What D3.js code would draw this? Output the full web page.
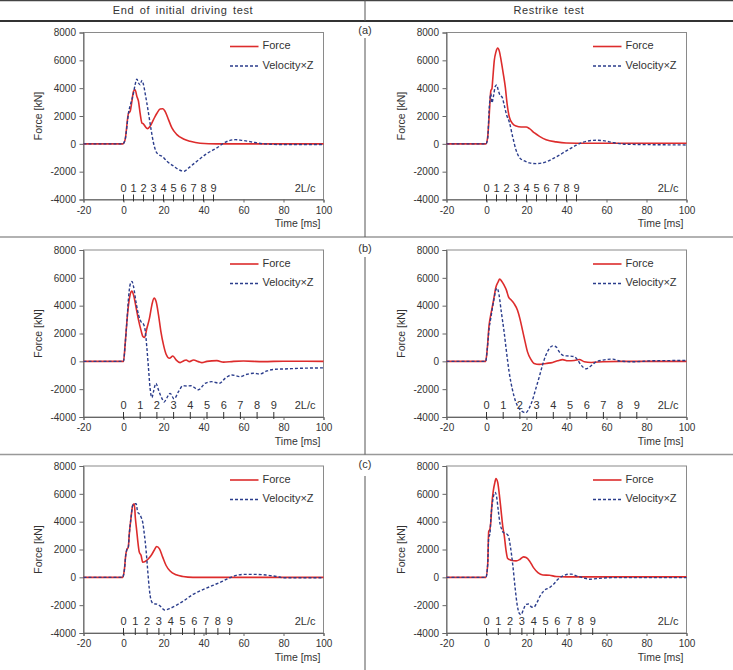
<!DOCTYPE html>
<html>
<head>
<meta charset="utf-8">
<script src="https://cdn.jsdelivr.net/npm/d3@7"></script>
<style>
  body { margin: 0; background: #fff; }
  text { font-family: "Liberation Sans", Arial, sans-serif; fill: #333; }
</style>
</head>
<body>
<svg id="fig" width="733" height="670"></svg>
<script>
// ---------------- data ----------------
const colTitles = ["End of initial driving test", "Restrike test"];
const rowLabels = ["(a)", "(b)", "(c)"];
const xTicks = [-20, 0, 20, 40, 60, 80, 100];
const yTicks = [-4000, -2000, 0, 2000, 4000, 6000, 8000];
const lcLabels = [0, 1, 2, 3, 4, 5, 6, 7, 8, 9];
// 2L/c period in ms for rows a, b, c
const periodMs = [5, 8.35, 5.9];
const seriesNames = ["Force", "Velocity\u00d7Z"];

// [time ms, kN]
const aInitForce = [[-20,0],[-0.3,0],[0.8,300],[2.5,2200],[3.3,2330],[4.2,3050],[5,3770],[5.8,3890],[6.7,3400],[7.5,3050],[8.3,2200],[9.2,1500],[10,1430],[10.8,1260],[12,1090],[13.3,1260],[15,1740],[16.7,2200],[18.3,2500],[19.7,2520],[20.8,2330],[22.5,1740],[24.2,1140],[26.7,660],[30,350],[33.3,180],[38.3,40],[46.7,0],[100,0]];
const aInitVel = [[-20,0],[-0.3,0],[0.8,300],[2.5,2200],[4.2,3200],[5,3650],[5.8,4250],[6.7,4650],[7.5,4370],[8.3,4250],[9.2,4560],[10,4250],[10.8,3650],[12.5,2200],[13.8,1020],[15,60],[16.2,-530],[17.5,-770],[19.2,-890],[21.7,-1250],[25,-1600],[28.3,-1900],[30.3,-1970],[32.5,-1740],[36.7,-1250],[41.7,-700],[46.7,-290],[50.8,110],[55.8,300],[59.2,250],[63.3,160],[70,0],[80,-50],[100,-50]];
const aRestForce = [[-20,0],[-0.3,0],[0.6,500],[1.4,2170],[2.2,3840],[2.7,3950],[3.1,4600],[3.9,6000],[4.7,6590],[5.6,6880],[6.4,6660],[7.3,6000],[8.4,5030],[9.4,4070],[10.3,2880],[11.4,1930],[13.1,1450],[14.8,1280],[17.3,1210],[19.8,1210],[21.5,1090],[24,780],[26.5,540],[29.8,300],[34.8,140],[39.8,60],[50,40],[100,40]];
const aRestVel = [[-20,0],[-0.3,0],[0.6,400],[1.4,2640],[2.2,3600],[2.7,2950],[3.4,3360],[4.4,4130],[5.1,4230],[5.9,3840],[6.8,3480],[7.8,3360],[8.9,2760],[10.1,2050],[11.4,1570],[13.1,500],[14.8,-460],[16.5,-990],[19,-1230],[21.5,-1370],[24.8,-1420],[29.8,-1300],[34.8,-940],[39.9,-510],[44.9,-100],[49.9,180],[54.9,260],[59.1,210],[63.3,90],[70,-30],[100,-80]];
const bInitForce = [[-20,0],[0,0],[0.8,1180],[1.7,2860],[2.5,4060],[3.3,4780],[4.2,5050],[5,4780],[6.2,3940],[7.5,2980],[8.7,2260],[9.7,1780],[10.5,1710],[11.7,2380],[13,3100],[14.2,4060],[15.3,4540],[16.3,4300],[17.5,3340],[18.7,2140],[20,1180],[21.3,510],[23,220],[24.7,380],[26.3,100],[28.3,-90],[30,30],[31.3,100],[33,-20],[35,100],[37.5,-20],[39.2,-90],[41.7,0],[46.7,50],[50,-60],[55,0],[60,20],[70,-20],[80,10],[100,0]];
const bInitVel = [[-20,0],[0,0],[0.8,1180],[1.7,2860],[2.5,4540],[3.3,5500],[4.2,5740],[5,5380],[6.2,4300],[7.5,3340],[8.7,2860],[10,2670],[10.8,2260],[11.7,940],[12.5,-500],[13.3,-1940],[14.2,-2610],[15,-2180],[16.2,-1580],[17.5,-2060],[19.2,-2660],[20.3,-2920],[21.7,-2620],[23.3,-2300],[25.3,-2700],[27.5,-2180],[29.7,-1750],[31.7,-1770],[33.7,-1750],[37.5,-2040],[40.8,-1580],[44.2,-1460],[48,-1580],[50.8,-1220],[54.2,-980],[58.3,-1100],[61.7,-930],[65,-860],[68.3,-910],[71.7,-690],[75.8,-570],[80,-550],[88.3,-500],[100,-470]];
const bRestForce = [[-20,0],[-0.4,0],[0.4,920],[1.3,2600],[2.1,3320],[2.9,3910],[3.8,4630],[4.6,5270],[5.8,5700],[6.6,5920],[7.6,5750],[8.8,5470],[10,5100],[11,4630],[12.1,4440],[13.8,4150],[15.5,3670],[16.7,3070],[18,2240],[19.3,1400],[20.5,680],[22.2,140],[23.8,-150],[26.4,-220],[29.7,-150],[33.1,-80],[35.6,40],[38.1,120],[40.6,40],[43.9,60],[46.4,130],[48.9,-30],[52.3,-80],[58.2,-30],[66.5,0],[100,0]];
const bRestVel = [[-20,0],[-0.4,0],[0.4,920],[1.3,2360],[2.1,3070],[2.9,3790],[3.8,4510],[4.6,5100],[5.4,5250],[6.3,4750],[7.4,3550],[8.8,2120],[10,680],[11.3,-750],[13,-2060],[14.6,-2900],[16.3,-3380],[18,-3620],[19.7,-3690],[21.3,-3380],[23,-2780],[24.7,-1940],[26.4,-1110],[28,-270],[29.7,450],[31.4,920],[33.1,1110],[34.8,1040],[36.4,680],[38.9,400],[41.4,380],[43.9,330],[45.6,90],[47.3,-270],[49.8,-530],[52.3,-320],[54.8,-30],[58.2,90],[63.2,160],[66.5,20],[73.2,-30],[83.3,40],[100,60]];
const cInitForce = [[-20,0],[-0.4,0],[0.4,500],[1.2,1690],[1.7,2000],[2.4,2170],[2.9,3120],[3.7,4200],[4.6,5160],[5.4,5280],[5.9,4320],[6.6,3360],[7.3,2400],[7.9,1810],[8.8,1570],[9.6,1090],[10.8,1140],[12.1,1280],[13.8,1570],[15.5,1980],[16.6,2220],[18,2050],[19.6,1450],[21.3,850],[23.3,450],[26.3,180],[29.7,60],[34.7,0],[100,0]];
const cInitVel = [[-20,0],[-0.4,0],[0.4,500],[1.2,1690],[1.7,2000],[2.4,2170],[2.9,3120],[3.7,4200],[4.6,5160],[5.4,5280],[6.3,5300],[7.1,4680],[7.9,4560],[8.8,4320],[9.6,3960],[10.4,3120],[11.3,1930],[12.1,500],[12.9,-820],[13.8,-1650],[14.9,-1890],[17.1,-1940],[18.8,-2130],[20.5,-2350],[23,-2250],[26.3,-2010],[29.7,-1730],[34.7,-1230],[39.7,-890],[44.7,-580],[49.7,-270],[53.1,-30],[56.4,140],[59.8,210],[66.5,210],[71.5,160],[76.5,60],[79.8,-30],[100,-30]];
const cRestForce = [[-20,0],[-0.3,0],[0.6,940],[1.1,3300],[1.7,3460],[2.2,4060],[2.7,5260],[3.4,6220],[4.2,6820],[4.7,7100],[5.6,6820],[6.4,5980],[7.3,4780],[8.1,3700],[8.9,2980],[9.8,1900],[10.6,1350],[12.3,1230],[14.8,1180],[16.8,1300],[18.5,1470],[19.8,1420],[21.5,1180],[23.5,700],[25.7,340],[28.2,170],[31.5,150],[34.8,60],[39.9,30],[100,30]];
const cRestVel = [[-20,0],[-0.3,0],[0.6,940],[1.1,2860],[1.7,3100],[2.2,4300],[3.1,5500],[3.9,6030],[4.4,6100],[5.1,5740],[5.9,4780],[6.8,3820],[7.6,3460],[8.4,3220],[9.8,3150],[10.9,2980],[11.9,2260],[13.1,940],[14.3,-740],[15.3,-1940],[16.5,-2610],[17.3,-2680],[18.5,-2300],[19.8,-1940],[21.1,-1920],[22.5,-2130],[23.6,-2150],[25.2,-1820],[26.8,-1340],[29,-930],[31.5,-740],[33.5,-500],[35.7,-140],[38.2,100],[40.7,220],[42.4,230],[44.9,100],[48.2,-20],[51.6,-140],[54.9,-90],[63.3,-20],[100,-20]];

// ---------------- layout ----------------
const plotW = 240, plotH = 167;
const colX = [83.5, 446.5];
const rowY = [32.5, 250, 466];
const forceColor = "#dd2c2c";
const velColor = "#2b3d8c";

const svg = d3.select("#fig");
svg.append("rect").attr("width", 733).attr("height", 670).attr("fill", "#fff");

// table lines
svg.append("line").attr("x1", 0).attr("x2", 733).attr("y1", 0.5).attr("y2", 0.5)
    .attr("stroke", "#444").attr("stroke-width", 1.5);
svg.append("line").attr("x1", 0).attr("x2", 733).attr("y1", 21).attr("y2", 21)
    .attr("stroke", "#333").attr("stroke-width", 2);
[237, 454.5].forEach(yy => {
    svg.append("line").attr("x1", 0).attr("x2", 733).attr("y1", yy).attr("y2", yy)
        .attr("stroke", "#999").attr("stroke-width", 1.5);
});
// vertical divider, broken where the row label sits
[[0, 21], [38, 237], [257, 454.5], [476, 670]].forEach(seg => {
    svg.append("line").attr("x1", 365).attr("x2", 365).attr("y1", seg[0]).attr("y2", seg[1])
        .attr("stroke", "#555").attr("stroke-width", 1);
});

// column titles
colTitles.forEach((t, i) => {
    svg.append("text")
        .attr("x", i === 0 ? 183 : 549)
        .attr("y", 11)
        .attr("text-anchor", "middle")
        .attr("dominant-baseline", "middle")
        .attr("font-size", "11px")
        .attr("letter-spacing", "0.6px")
        .attr("word-spacing", "2px")
        .text(t);
});

// row labels
rowLabels.forEach((t, i) => {
    svg.append("text")
        .attr("x", 365)
        .attr("y", rowY[i] - 1)
        .attr("text-anchor", "middle")
        .attr("dominant-baseline", "middle")
        .attr("font-size", "11px")
        .text(t);
});

const panels = [
    { row: 0, col: 0, force: aInitForce, vel: aInitVel },
    { row: 0, col: 1, force: aRestForce, vel: aRestVel },
    { row: 1, col: 0, force: bInitForce, vel: bInitVel },
    { row: 1, col: 1, force: bRestForce, vel: bRestVel },
    { row: 2, col: 0, force: cInitForce, vel: cInitVel },
    { row: 2, col: 1, force: cRestForce, vel: cRestVel }
];

panels.forEach(p => drawPanel(p));

function drawPanel(p) {
    const g = svg.append("g")
        .attr("transform", `translate(${colX[p.col]},${rowY[p.row]})`);

    const x = d3.scaleLinear().domain([-20, 100]).range([0, plotW]);
    const y = d3.scaleLinear().domain([-4000, 8000]).range([plotH, 0]);

    // plot area border
    g.append("rect")
        .attr("width", plotW).attr("height", plotH)
        .attr("fill", "none").attr("stroke", "#8a8a8a").attr("stroke-width", 1);

    // x axis
    const xa = g.append("g")
        .attr("transform", `translate(0,${plotH})`)
        .call(d3.axisBottom(x).tickValues(xTicks).tickSize(3).tickPadding(4)
            .tickFormat(d => String(d)));
    // y axis
    const ya = g.append("g")
        .call(d3.axisLeft(y).tickValues(yTicks).tickSize(4).tickPadding(3.5)
            .tickFormat(d => String(d)));
    [xa, ya].forEach(a => {
        a.select(".domain").attr("stroke", "#666");
        a.selectAll(".tick line").attr("stroke", "#666");
        a.selectAll("text").attr("font-size", "10px").attr("fill", "#333")
            .attr("font-family", "\"Liberation Sans\", Arial, sans-serif");
    });

    // axis titles
    g.append("text")
        .attr("x", plotW - 3).attr("y", plotH + 25)
        .attr("text-anchor", "end").attr("dominant-baseline", "middle")
        .attr("font-size", "10.5px")
        .text("Time [ms]");
    g.append("text")
        .attr("transform", `translate(-44.5,${plotH / 2}) rotate(-90)`)
        .attr("text-anchor", "middle").attr("dominant-baseline", "middle")
        .attr("font-size", "10.5px")
        .text("Force [kN]");

    // 2L/c scale along the bottom
    const period = periodMs[p.row];
    const lc = g.append("g");
    lc.selectAll("line")
        .data(lcLabels)
        .join("line")
        .attr("x1", d => x(d * period)).attr("x2", d => x(d * period))
        .attr("y1", plotH - 5).attr("y2", plotH + 2)
        .attr("stroke", "#333").attr("stroke-width", 1);
    lc.selectAll("text")
        .data(lcLabels)
        .join("text")
        .attr("x", d => x(d * period))
        .attr("y", plotH - 10.5)
        .attr("text-anchor", "middle").attr("dominant-baseline", "middle")
        .attr("font-size", "11px")
        .text(d => d);
    g.append("text")
        .attr("x", plotW - 8).attr("y", plotH - 10.5)
        .attr("text-anchor", "end").attr("dominant-baseline", "middle")
        .attr("font-size", "11px")
        .text("2L/c");

    // lines
    const line = d3.line()
        .x(d => x(d[0]))
        .y(d => y(d[1]))
        .curve(d3.curveMonotoneX);

    g.append("path")
        .datum(p.force)
        .attr("d", line)
        .attr("fill", "none").attr("stroke", forceColor).attr("stroke-width", 1.6);
    g.append("path")
        .datum(p.vel)
        .attr("d", line)
        .attr("fill", "none").attr("stroke", velColor).attr("stroke-width", 1.4)
        .attr("stroke-dasharray", "3,2");

    // legend
    const leg = g.append("g");
    [0, 1].forEach(i => {
        const ly = i === 0 ? 14 : 33.5;
        leg.append("line")
            .attr("x1", 146.5).attr("x2", 175).attr("y1", ly).attr("y2", ly)
            .attr("stroke", i === 0 ? forceColor : velColor)
            .attr("stroke-width", i === 0 ? 1.6 : 1.4)
            .attr("stroke-dasharray", i === 0 ? null : "3,2");
        leg.append("text")
            .attr("x", 179).attr("y", ly)
            .attr("dominant-baseline", "middle")
            .attr("font-size", "11px")
            .text(seriesNames[i]);
    });
}
</script>
</body>
</html>
